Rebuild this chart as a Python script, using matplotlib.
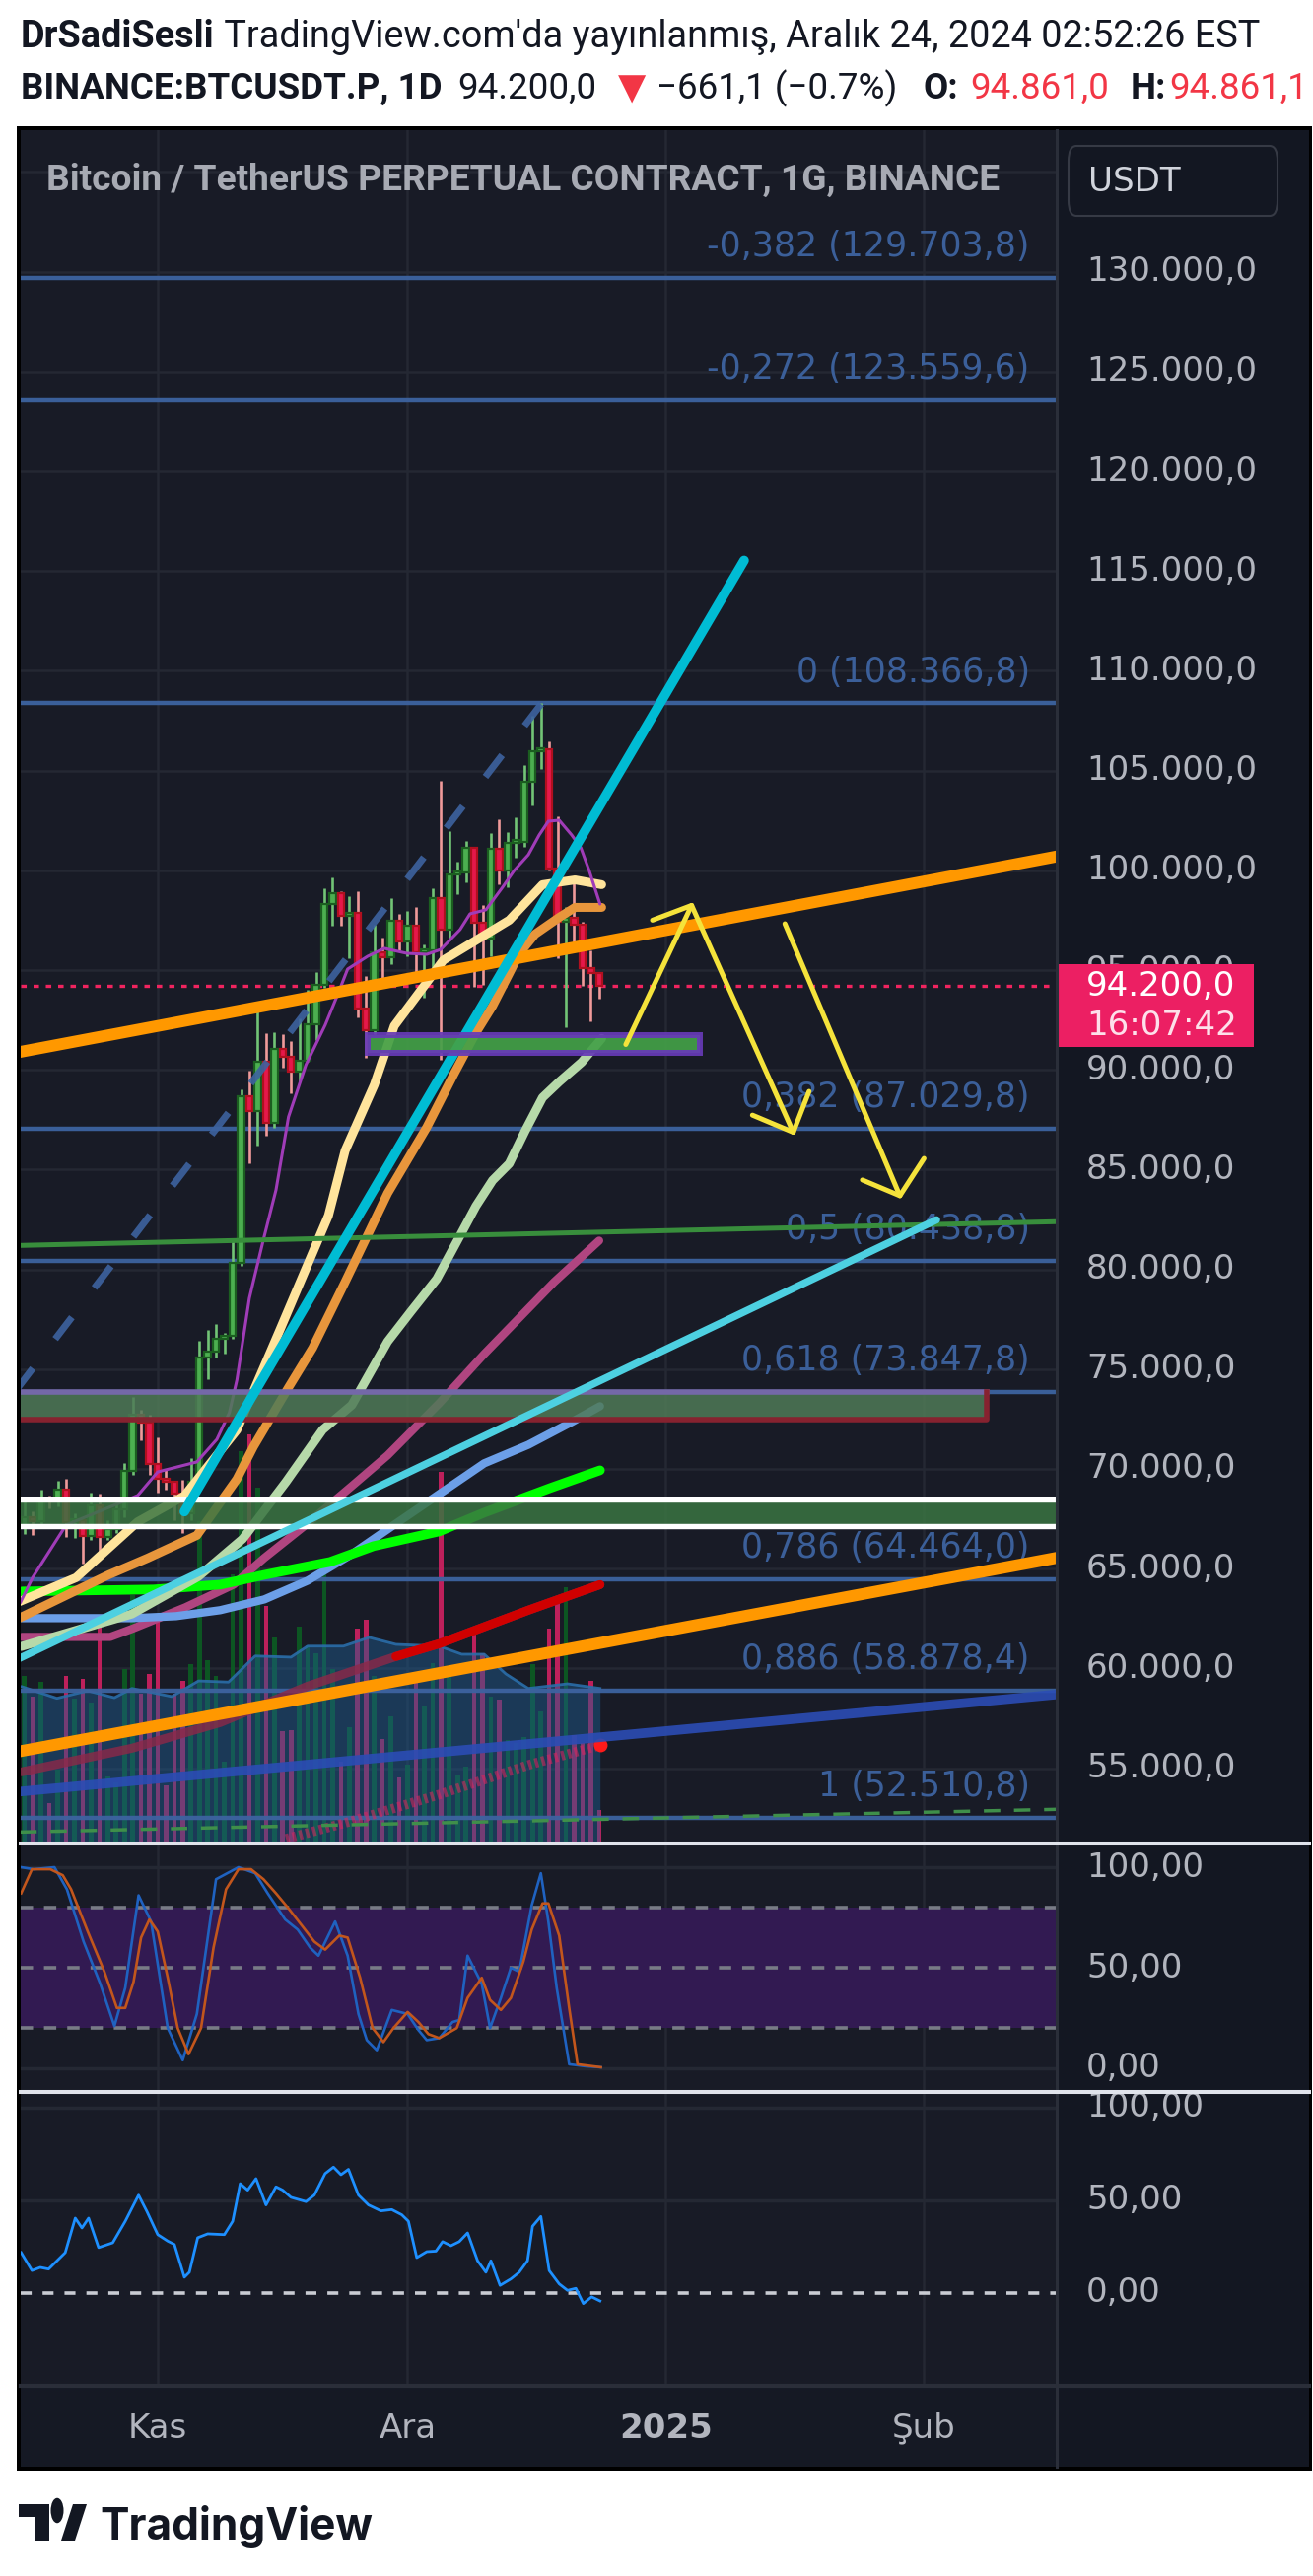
import matplotlib
matplotlib.use("Agg")
import matplotlib.pyplot as plt
import matplotlib.transforms as mtransforms
from matplotlib.patches import Rectangle, FancyBboxPatch, Polygon, Circle
from matplotlib.lines import Line2D
import numpy as np

plt.rcParams['lines.scale_dashes'] = False
plt.rcParams['font.family'] = ['DejaVu Sans']

# ---------------------------------------------------------------- data
# day 0 = 1 Kasım 2024, one candle per day
candle_days = list(range(-16, 54))
opens = [67050, 67600, 67400, 68400, 68350, 68950, 67350, 67420, 66650, 68150,
         66600, 67000, 67950, 69900, 72700, 72300, 70250, 69500, 69350, 68750,
         67800, 69350, 75600, 75900, 76500, 76650, 80350, 88700, 87950, 90400,
         87350, 91050, 90650, 89900, 90450, 92300, 94250, 98300, 98850, 97700,
         97850, 93050, 92000, 95900, 95650, 97450, 96450, 97200, 95900, 96000,
         98600, 97050, 99800, 99900, 101150, 97350, 96600, 101100, 100000, 101350,
         101400, 104450, 105950, 106050, 100100, 97400, 97600, 97250, 95100, 94861]
highs = [68400, 67900, 68950, 68650, 69400, 69500, 67800, 67450, 68800, 68750,
         67450, 68300, 70300, 73600, 72950, 72700, 71600, 70000, 69400, 69450,
         70550, 76400, 76950, 77250, 76800, 81500, 89000, 89950, 93250, 91850,
         91900, 91800, 91450, 92600, 94000, 94900, 99100, 99650, 98950, 98700,
         98950, 94700, 97250, 96650, 98600, 97800, 97950, 98150, 96300, 99100,
         104500, 101950, 100450, 101450, 101200, 98250, 101850, 102550, 101900, 102650,
         105300, 107750, 108370, 106470, 102700, 98150, 99400, 97400, 96000, 94861.1]
lows = [66750, 66700, 67100, 68000, 68100, 66600, 66550, 65250, 66450, 65550,
        66450, 66800, 67600, 69700, 71450, 69700, 68800, 68950, 67450, 66800,
        67450, 69300, 74500, 75600, 75800, 76500, 80200, 85300, 86200, 86700,
        87100, 90100, 88800, 89400, 90400, 91500, 94100, 97200, 97200, 95600,
        92650, 90600, 91800, 94600, 95300, 96000, 95700, 94400, 93600, 94650,
        90500, 96500, 98800, 99400, 94150, 94250, 95700, 99300, 99150, 100650,
        101200, 103250, 105100, 100000, 95600, 92150, 96400, 94200, 92450, 93550]
closes = [67600, 67400, 68400, 68350, 68950, 67350, 67420, 66650, 68150, 66600,
          67000, 67950, 69900, 72700, 72300, 70250, 69500, 69350, 68750, 67800,
          69350, 75600, 75900, 76500, 76650, 80350, 88700, 87950, 90400, 87350,
          91050, 90650, 89900, 90450, 92300, 94250, 98300, 98850, 97700, 97850,
          93050, 92000, 95900, 95650, 97450, 96450, 97200, 95900, 96000, 98600,
          97050, 99800, 99900, 101150, 97350, 96600, 101100, 100000, 101350, 101400,
          104450, 105950, 106050, 100100, 97400, 97600, 97250, 95100, 94861, 94200]
volume_k = [286, 250, 275, 66, 124, 286, 247, 281, 240, 376,
            112, 102, 298, 425, 255, 289, 393, 97, 255, 277,
            306, 553, 313, 286, 138, 461, 673, 702, 610, 406,
            352, 190, 192, 371, 338, 325, 462, 298, 138, 197,
            367, 383, 286, 177, 216, 111, 133, 275, 233, 308,
            638, 298, 116, 129, 364, 325, 250, 245, 175, 170,
            180, 306, 224, 367, 415, 439, 184, 170, 277, 54]
vol_ma_days = [-16.3, -12.1, -8.4, -5.2, -3.1, 1.7, 4.9, 8.5, 11.7, 16.0, 18.0,
               22.3, 25.4, 28.6, 33.8, 36.5, 39.2, 41.8, 44.5, 49.2, 53.1]
vol_ma_vals = [267, 247, 260, 248, 264, 250, 277, 275, 320, 318, 337,
               337, 352, 340, 337, 323, 323, 289, 264, 272, 264]

last_price = 94200.0

# moving averages (day, price)
ma_purple_days = [-16.5, -15.0, -11.0, -2.4, 0, 4.7, 7.1, 8.6, 9.5, 11.0, 12.7, 14.2,
                  15.7, 17.8, 20.1, 21.7, 22.8, 25.2, 27.2, 29.9, 32.3, 34.0, 36.3,
                  37.5, 39.4, 41.4, 42.8, 44.5, 45.8, 46.9, 48.2, 49.7, 50.8, 51.8, 53.1]
ma_purple_vals = [63300, 64570, 67190, 68670, 69850, 70350, 71480, 72820, 74450, 78550,
                  81510, 83980, 87640, 90260, 92240, 93870, 95050, 95690, 96090, 95840,
                  95790, 96040, 97030, 97820, 98020, 99150, 99990, 100780, 101770, 102460,
                  102510, 101770, 101130, 99990, 98310]
ma_cream_days = [-16.9, -9.8, -2.4, 3.2, 9.5, 14.6, 20.5, 22.5, 26.0, 28.4, 34.3,
                 42.2, 46.2, 50.1, 53.3]
ma_cream_vals = [63300, 64550, 67350, 68650, 71950, 76900, 82700, 85950, 89250, 92200,
                 95500, 97500, 99280, 99520, 99280]
ma_orange_days = [-16.9, -5.9, -1.2, 4.7, 9.5, 11.5, 15.7, 18.6, 22.5, 27.6, 32.3,
                  35.5, 38.2, 40.2, 42.2, 43.4, 45.3, 48.2, 50.1, 53.3]
ma_orange_vals = [62470, 64690, 65530, 66670, 69490, 71120, 74080, 76060, 79370, 83810,
                  87120, 89740, 91860, 93200, 94830, 95820, 96800, 97640, 98140, 98140]
ma_sage_days = [-16.4, -3.1, 4.9, 10.2, 15.4, 19.8, 23.3, 27.6, 30.4, 33.5, 36.3,
                38.2, 40.2, 42.2, 44.1, 46.2, 48.2, 50.9, 53.3]
ma_sage_vals = [61100, 62730, 64610, 66490, 69350, 71960, 73200, 76380, 77890, 79520,
                81690, 83170, 84460, 85300, 86930, 88610, 89400, 90380, 91570]
ma_magenta_days = [-16.3, -5.7, -3.1, 3.3, 9.1, 12.8, 18.0, 23.3, 27.6, 33.8, 39.2, 47.6, 53.0]
ma_magenta_vals = [61580, 61580, 61980, 63060, 64200, 65540, 67270, 69140, 70680,
                   73290, 75760, 79370, 81440]
ma_lime_days = [-16.3, -0.5, 7.5, 12.8, 20.7, 25.9, 33.8, 39.2, 47.1, 53.1]
ma_lime_vals = [63860, 63960, 64200, 64690, 65340, 66130, 66870, 67810, 69040, 69930]
ma_sky_days = [-16.3, -3.1, 2.2, 7.5, 12.8, 18.0, 23.3, 28.6, 33.8, 39.2, 44.5, 49.7, 53.1]
ma_sky_vals = [62520, 62520, 62620, 62920, 63460, 64400, 65730, 67260, 68740, 70280,
               71210, 72350, 73140]
ma_red_days = [-16.3, -3.1, 7.5, 18.0, 28.6, 33.8, 44.5, 53.1]
ma_red_vals = [54820, 56000, 57290, 59110, 60600, 61240, 62920, 64200]
ma_hatch_days = [15.4, 23.3, 33.8, 44.5, 53.1]
ma_hatch_vals = [51460, 52350, 53680, 55160, 56150]

# fibonacci retracement
fib_ratios = ["-0,382", "-0,272", "0", "0,382", "0,5", "0,618", "0,786", "0,886", "1"]
fib_prices = [129703.8, 123559.6, 108366.8, 87029.8, 80438.8, 73847.8, 64464.0, 58878.4, 52510.8]

# hand-drawn trend lines: (day0, price0, day1, price1)
tl_orange_upper = (-16.5, 90900, 108, 100700)
tl_orange_lower = (-16.5, 55850, 108, 65550)
tl_cyan = (3.2, 67860, 70.4, 115530)
tl_aqua = (-16.9, 60450, 93.5, 82480)
tl_green = (-16.5, 81200, 108, 82390)
tl_navy = (-16.5, 53830, 108, 58700)
tl_green_dashed = (-16.5, 51800, 108, 52940)
tl_blue_dashed = (-17.0, 73950, 46.1, 108366.8)

# zones
support_zone = (25.15, 90830, 65.05, 91760)        # day0, low, day1, high
gap_zone = (-40, 72453, 99.5, 73836)
band_zone = (67120, 68450)

# yellow projection arrows (day, price polylines)
arrow_up_days, arrow_up_prices = [56.2, 64.1, 59.4], [91270, 98240, 97500]
arrow_down1_days, arrow_down1_prices = [64.1, 76.3], [98240, 86870]
arrow_down1_head_days, arrow_down1_head_prices = [71.4, 76.3, 78.2], [87730, 86870, 88920]
arrow_down2_days, arrow_down2_prices = [75.3, 89.1], [97320, 83690]
arrow_down2_head_days, arrow_down2_head_prices = [84.6, 89.1, 92.0], [84480, 83690, 85560]

# stochastic RSI
stoch_k_days = [-16.4, -14.9, -12.4, -10.9, -8.9, -6.9, -5.2, -3.9, -2.3, -0.8, 1.2, 3.0,
                4.7, 7.0, 9.7, 11.7, 13.2, 15.3, 16.8, 18.3, 19.3, 21.3, 22.8, 24.1, 25.1,
                26.3, 28.1, 30.0, 31.3, 32.3, 33.8, 35.4, 36.2, 37.2, 38.9, 39.9, 41.2,
                42.4, 43.4, 44.9, 46.0, 46.9, 47.9, 49.4, 51.4, 53.2]
stoch_k_vals = [100, 99, 100, 89, 63, 42, 21, 40, 86, 73, 20, 4, 27, 94, 100, 97, 87, 74,
                69, 60, 56, 73, 56, 27, 14, 9, 29, 27, 19, 14, 15, 23, 24, 56, 42, 20, 35,
                50, 48, 81, 97, 73, 40, 2, 1, 0.5]
stoch_d_days = [-16.4, -15.1, -12.9, -11.4, -10.4, -8.4, -6.4, -4.9, -3.9, -2.9, -2.0,
                -1.0, 0.0, 1.2, 2.4, 3.7, 5.2, 6.7, 8.2, 9.7, 11.2, 12.7, 14.2, 15.8, 17.3,
                18.8, 20.1, 21.8, 22.8, 24.3, 25.8, 27.1, 28.3, 30.0, 31.3, 32.5, 33.8,
                35.9, 37.2, 38.9, 39.9, 41.2, 42.4, 43.9, 44.9, 46.2, 46.9, 48.2, 49.4,
                50.4, 53.2]
stoch_d_vals = [87, 99, 99, 96, 89, 68, 48, 30, 30, 43, 65, 74, 68, 45, 20, 7, 20, 60, 89,
                99, 99, 94, 87, 79, 71, 63, 59, 66, 65, 45, 20, 13, 20, 28, 23, 17, 15, 20,
                35, 45, 34, 29, 35, 53, 69, 82, 82, 66, 30, 2, 0.5]

# lower oscillator
osc_days = [-16.4, -15.1, -14.1, -13.1, -11.1, -9.9, -9.1, -8.3, -7.1, -5.4, -3.9, -2.3,
            -1.3, 0.0, 1.2, 2.0, 3.2, 3.8, 4.8, 6.0, 8.0, 9.0, 9.9, 10.8, 11.8, 13.0,
            14.2, 15.0, 16.0, 17.8, 18.8, 20.1, 21.1, 22.0, 22.9, 24.1, 25.3, 26.8, 28.1,
            29.3, 30.1, 31.1, 32.3, 33.4, 34.2, 35.2, 36.2, 37.2, 38.4, 39.4, 40.0, 41.1,
            42.4, 43.4, 44.4, 45.0, 46.0, 47.0, 48.2, 49.2, 50.2, 51.1, 52.1, 53.1]
osc_vals = [21.8, 12.1, 13.8, 12.9, 21.8, 40.4, 35.1, 40.4, 24.5, 27.1, 38.7, 52.8, 44.0,
            31.5, 28.0, 26.2, 8.5, 11.2, 29.8, 31.9, 31.5, 38.7, 59.0, 55.5, 61.7, 47.5,
            57.3, 55.5, 51.6, 49.3, 52.8, 64.4, 67.9, 63.8, 66.7, 52.8, 47.5, 44.3, 45.0,
            42.2, 38.7, 19.1, 22.3, 22.6, 27.7, 25.5, 27.7, 32.4, 17.4, 11.2, 17.4, 4.1,
            7.6, 11.2, 17.4, 36.0, 41.3, 12.1, 4.9, 1.4, 2.5, -5.7, -2.1, -4.3]

price_ticks = list(range(55000, 135000, 5000))
grid_prices = list(range(55000, 140000, 5000))
month_days = [0, 30, 61, 92]
month_labels = ["Kas", "Ara", "2025", "Şub"]

# ---------------------------------------------------------------- layout
W, H, DPI = 1332, 2613, 100
X_PLOT0, X_PLOT1, X_FRAME1 = 21, 1072, 1328
Y_MAIN0, Y_MAIN1 = 132, 1868
Y_ST0, Y_ST1 = 1872, 2120
Y_OSC0, Y_OSC1 = 2124, 2419
Y_TIME1 = 2502
XLIM = (-16.45, 107.93)
PRICE_LIM = (51324, 137095)
VOL_LIM = (0, 2951)
STOCH_LIM = (-10.8, 110.8)
OSC_LIM = (-49.5, 107.4)

PANE_BG = '#181b26'
AXIS_BG = '#131722'
GRID = '#242833'
AX_TEXT = '#b2b5be'
AX_FS = 24.5
UP_FILL, UP_EDGE, UP_WICK = '#4caf50', '#1b5e20', '#72c476'
DN_FILL, DN_EDGE, DN_WICK = '#e5184a', '#b0101f', '#f09a9a'

fig = plt.figure(figsize=(W / DPI, H / DPI), dpi=DPI, facecolor='white')


def rect_px(x0, y0, x1, y1):
    return [x0 / W, 1 - y1 / H, (x1 - x0) / W, (y1 - y0) / H]


def fxy(x, y):
    return (x / W, 1 - y / H)


def bare(a):
    a.set_xticks([])
    a.set_yticks([])
    for s in a.spines.values():
        s.set_visible(False)


def fig_rect(x0, y0, x1, y1, color, z):
    fig.add_artist(Rectangle(fxy(x0, y1), (x1 - x0) / W, (y1 - y0) / H,
                             transform=fig.transFigure, facecolor=color,
                             edgecolor='none', zorder=z))


def fig_hline(y, x0, x1, color, lw, z=20):
    fig.add_artist(Line2D([x0 / W, x1 / W], [1 - y / H, 1 - y / H],
                          transform=fig.transFigure, color=color, lw=lw, zorder=z))


def euro_fmt(v):
    return f"{v:,.1f}".replace(",", "X").replace(".", ",").replace("X", ".")


# chart frame and price-scale panel
fig_rect(17, 128, 1331, 2506, '#000000', -10)
fig_rect(X_PLOT0, 132, X_FRAME1, Y_TIME1, AXIS_BG, -9)

# ---------------------------------------------------------------- main pane
ax_bg = fig.add_axes(rect_px(X_PLOT0, Y_MAIN0, X_PLOT1, Y_MAIN1))
ax_bg.set_facecolor(PANE_BG)
ax_bg.set_xlim(*XLIM)
ax_bg.set_ylim(*PRICE_LIM)
bare(ax_bg)
for p in grid_prices:
    ax_bg.axhline(p, color=GRID, lw=1.8)
for d in month_days:
    ax_bg.axvline(d, color=GRID, lw=1.8)

ax_vol = fig.add_axes(rect_px(X_PLOT0, Y_MAIN0, X_PLOT1, Y_MAIN1))
ax_vol.set_facecolor('none')
ax_vol.set_xlim(*XLIM)
ax_vol.set_ylim(*VOL_LIM)
bare(ax_vol)
is_up = [c >= o for o, c in zip(opens, closes)]
vol_colors = ['#0b5c22' if u else '#cc2160' for u in is_up]
ax_vol.bar(candle_days, volume_k, width=0.55, color=vol_colors, alpha=0.92, lw=0)
ax_vol.fill_between(vol_ma_days, 0, vol_ma_vals, color='#1f5f94', alpha=0.45, lw=0)
ax_vol.plot(vol_ma_days, vol_ma_vals, color='#2a6eaa', lw=2.0, alpha=0.9)

ax = fig.add_axes(rect_px(X_PLOT0, Y_MAIN0, X_PLOT1, Y_MAIN1))
ax.set_facecolor('none')
ax.set_xlim(*XLIM)
ax.set_ylim(*PRICE_LIM)
bare(ax)

# fibonacci levels
for lab, p in zip(fib_ratios, fib_prices):
    ax.axhline(p, color='#3d63a0', lw=3.2, alpha=0.95, zorder=1)
    ax.annotate(f"{lab} ({euro_fmt(p)})", xy=(104.7, p), xytext=(0, 23),
                textcoords='offset points', ha='right', va='center',
                color='#3b5f99', fontsize=25, zorder=1)

# last price dotted line
ax.axhline(last_price, color='#f0245f', lw=2.4, dashes=(4, 5), zorder=2)

# candles
wick_cols = [UP_WICK if u else DN_WICK for u in is_up]
ax.vlines(candle_days, lows, highs, colors=wick_cols, lw=1.9, zorder=2.5)
body_lo = [min(o, c) for o, c in zip(opens, closes)]
body_h = [max(abs(c - o), 150) for o, c in zip(opens, closes)]
ax.bar(candle_days, body_h, bottom=body_lo, width=0.76,
       color=[UP_FILL if u else DN_FILL for u in is_up],
       edgecolor=[UP_EDGE if u else DN_EDGE for u in is_up], lw=1.6, zorder=3)

# moving averages
ma_kw = dict(solid_capstyle='round', solid_joinstyle='round')
ax.plot(ma_red_days, ma_red_vals, color='#8e2848', lw=6.5, alpha=0.8, zorder=4, **ma_kw)
red_bright = [i for i, d in enumerate(ma_red_days) if d >= 28.6]
ax.plot([ma_red_days[i] for i in red_bright], [ma_red_vals[i] for i in red_bright],
        color='#d00000', lw=6.5, zorder=4.1, **ma_kw)
ax.plot(ma_hatch_days, ma_hatch_vals, color='#e0245e', lw=7, alpha=0.55,
        dashes=(2.5, 2.5), zorder=4)
ax.plot(ma_hatch_days[-1:], ma_hatch_vals[-1:], 'o', color='#ff1a1a', ms=9, zorder=4.1)
ax.plot(ma_magenta_days, ma_magenta_vals, color='#b04580', lw=6, zorder=4, **ma_kw)
ax.plot(ma_sky_days, ma_sky_vals, color='#6c9fe8', lw=6, zorder=4, **ma_kw)
ax.plot(ma_lime_days, ma_lime_vals, color='#00ff00', lw=7, zorder=4, **ma_kw)
ax.plot(ma_sage_days, ma_sage_vals, color='#b6d9a9', lw=6.5, zorder=4, **ma_kw)
ax.plot(ma_orange_days, ma_orange_vals, color='#e8963c', lw=6.5, zorder=4, **ma_kw)
ax.plot(ma_cream_days, ma_cream_vals, color='#ffe49c', lw=6.5, zorder=4, **ma_kw)
ax.plot(ma_purple_days, ma_purple_vals, color='#a03cb8', lw=2.2, zorder=4.2, **ma_kw)

# zones
gx0, glo, gx1, ghi = gap_zone
ax.add_patch(Rectangle((gx0, glo), gx1 - gx0, ghi - glo, facecolor='#4f7a57',
                       edgecolor='none', alpha=0.85, zorder=5))
ax.plot([gx0, gx1], [ghi, ghi], color='#7468a8', lw=4, zorder=5.1)
ax.plot([gx0, gx1, gx1], [glo, glo, ghi], color='#86222f', lw=4, zorder=5.1)
blo, bhi = band_zone
ax.axhspan(blo, bhi, color='#3a7442', alpha=0.85, lw=0, zorder=5)
ax.axhline(bhi, color='white', lw=3.9, zorder=5.2)
ax.axhline(blo, color='white', lw=3.9, zorder=5.2)


# trend lines
def tline(spec, **kw):
    d0, p0, d1, p1 = spec
    ax.plot([d0, d1], [p0, p1], **kw)


tline(tl_green_dashed, color='#3f8f4a', lw=2.5, dashes=(12, 10), zorder=6)
tline(tl_navy, color='#2b4db5', lw=7, alpha=0.9, zorder=6, solid_capstyle='round')
tline(tl_green, color='#388e3c', lw=3.6, zorder=6)
tline(tl_orange_lower, color='#ff9800', lw=8.6, zorder=6.2)
tline(tl_orange_upper, color='#ff9800', lw=8.6, zorder=6.2)
tline(tl_aqua, color='#4dd0e1', lw=5.4, zorder=6.1, solid_capstyle='round')
tline(tl_cyan, color='#00bcd4', lw=7, zorder=6.3, solid_capstyle='round')
tline(tl_blue_dashed, color='#3d63a0', lw=5, alpha=0.9, dashes=(20, 27),
      dash_capstyle='butt', zorder=6)

sx0, slo, sx1, shi = support_zone
ax.add_patch(Rectangle((sx0, slo), sx1 - sx0, shi - slo, facecolor='#43a047',
                       edgecolor='#673ab7', lw=4.3, alpha=0.92, zorder=7))

# yellow projection arrows
arrow_kw = dict(color='#f5e33b', lw=3.6, zorder=8, solid_capstyle='round',
                solid_joinstyle='round')
ax.plot(arrow_up_days, arrow_up_prices, **arrow_kw)
ax.plot(arrow_down1_days, arrow_down1_prices, **arrow_kw)
ax.plot(arrow_down1_head_days, arrow_down1_head_prices, **arrow_kw)
ax.plot(arrow_down2_days, arrow_down2_prices, **arrow_kw)
ax.plot(arrow_down2_head_days, arrow_down2_head_prices, **arrow_kw)

# price scale labels
lab_x = (1102 - X_PLOT0) / (X_PLOT1 - X_PLOT0)
btr = mtransforms.blended_transform_factory(ax.transAxes, ax.transData)
for p in price_ticks:
    ax.text(lab_x, p, euro_fmt(p), transform=btr, ha='left', va='center', color=AX_TEXT,
            fontsize=AX_FS, clip_on=False, zorder=9)

# last price tag
px_per_usd = (Y_MAIN1 - Y_MAIN0) / (PRICE_LIM[1] - PRICE_LIM[0])
tag_w = (1272 - X_PLOT1) / (X_PLOT1 - X_PLOT0)
ax.add_patch(FancyBboxPatch((1.0, last_price - 62 / px_per_usd), tag_w, 84 / px_per_usd,
                            boxstyle='square,pad=0', transform=btr, facecolor='#ec1f63',
                            edgecolor='none', clip_on=False, zorder=10))
ax.text(lab_x, last_price, euro_fmt(last_price), transform=btr, ha='left', va='center',
        color='white', fontsize=AX_FS, clip_on=False, zorder=11)
ax.text(lab_x, last_price - 40 / px_per_usd, "16:07:42", transform=btr, ha='left',
        va='center', color='#fde0ea', fontsize=AX_FS, clip_on=False, zorder=11)

# ---------------------------------------------------------------- stochastic RSI pane
ax_st = fig.add_axes(rect_px(X_PLOT0, Y_ST0, X_PLOT1, Y_ST1))
ax_st.set_facecolor(PANE_BG)
ax_st.set_xlim(*XLIM)
ax_st.set_ylim(*STOCH_LIM)
bare(ax_st)
for d in month_days:
    ax_st.axvline(d, color=GRID, lw=1.8, zorder=0)
ax_st.axhline(100, color=GRID, lw=2.5, zorder=0)
ax_st.axhline(0, color=GRID, lw=2.5, zorder=0)
ax_st.axhspan(20, 80, color='#321a52', lw=0, zorder=0.5)
for lvl in (80, 50, 20):
    ax_st.axhline(lvl, color='#787b86', lw=2.6, dashes=(9, 8), zorder=1)
ax_st.plot(stoch_k_days, stoch_k_vals, color='#1f62c0', lw=1.9, zorder=2)
ax_st.plot(stoch_d_days, stoch_d_vals, color='#c2561c', lw=1.9, zorder=2)
st_tr = mtransforms.blended_transform_factory(ax_st.transAxes, ax_st.transData)
for v, s in ((100, "100,00"), (50, "50,00"), (0, "0,00")):
    ax_st.text(lab_x, v, s, transform=st_tr, ha='left', va='center', color=AX_TEXT,
               fontsize=AX_FS, clip_on=False)

# ---------------------------------------------------------------- oscillator pane
ax_os = fig.add_axes(rect_px(X_PLOT0, Y_OSC0, X_PLOT1, Y_OSC1))
ax_os.set_facecolor(PANE_BG)
ax_os.set_xlim(*XLIM)
ax_os.set_ylim(*OSC_LIM)
bare(ax_os)
for d in month_days:
    ax_os.axvline(d, color=GRID, lw=1.8, zorder=0)
ax_os.axhline(100, color=GRID, lw=2.5, zorder=0)
ax_os.axhline(50, color=GRID, lw=2.5, zorder=0)
ax_os.axhline(0, color='#c9ccd3', lw=2.6, dashes=(8, 8), zorder=1)
ax_os.plot(osc_days, osc_vals, color='#1e90ff', lw=2.0, zorder=2)
os_tr = mtransforms.blended_transform_factory(ax_os.transAxes, ax_os.transData)
for v, s in ((100, "100,00"), (50, "50,00"), (0, "0,00")):
    ax_os.text(lab_x, v, s, transform=os_tr, ha='left', va='center', color=AX_TEXT,
               fontsize=AX_FS, clip_on=False)

# ---------------------------------------------------------------- time axis
ax_t = fig.add_axes(rect_px(X_PLOT0, Y_OSC1 + 2, X_PLOT1, Y_TIME1))
ax_t.set_facecolor('#151924')
ax_t.set_xlim(*XLIM)
ax_t.set_ylim(0, 1)
bare(ax_t)
for d, s in zip(month_days, month_labels):
    ax_t.text(d, 0.48, s, ha='center', va='center', color=AX_TEXT, fontsize=AX_FS,
              fontweight='bold' if s == "2025" else 'normal')

# pane separators
fig_hline(1870, X_PLOT0, X_FRAME1, '#e0e3eb', 2.9)
fig_hline(2122, X_PLOT0, X_FRAME1, '#e0e3eb', 2.9)
fig_hline(2420, X_PLOT0, X_FRAME1, '#2a2e39', 3.0)
fig.add_artist(Line2D([X_PLOT1 / W, X_PLOT1 / W], [1 - Y_TIME1 / H, 1 - Y_MAIN0 / H],
                      transform=fig.transFigure, color='#2a2e39', lw=2.2, zorder=19))

# currency box
fig.add_artist(FancyBboxPatch(fxy(1084, 219), 212 / W, 71 / H,
                              boxstyle='round,pad=0,rounding_size=0.006',
                              transform=fig.transFigure, facecolor='#131722',
                              edgecolor='#363a45', lw=1.5, zorder=21))
fig.text(1104 / W, 1 - 184 / H, "USDT", ha='left', va='center', color='#d1d4dc',
         fontsize=AX_FS, zorder=22)

# ---------------------------------------------------------------- texts
renderer = fig.canvas.get_renderer()


def fit(t, width_px):
    w = t.get_window_extent(renderer=renderer).width
    t.set_fontsize(t.get_fontsize() * width_px / w)


def right_of(t):
    return t.get_window_extent(renderer=renderer).x1


HEAD = ['Roboto', 'DejaVu Sans']
DARK = '#131722'
RED = '#f23645'

t1 = fig.text(21 / W, 1 - 48 / H, "DrSadiSesli", fontsize=20, fontweight='bold',
              family=HEAD, color=DARK)
t2 = fig.text(0, 1 - 48 / H, " TradingView.com'da yayınlanmış, Aralık 24, 2024 02:52:26 EST",
              fontsize=20, family=HEAD, color=DARK)
w_all = t1.get_window_extent(renderer=renderer).width + t2.get_window_extent(renderer=renderer).width
scale = 1255 / w_all
t1.set_fontsize(20 * scale)
t2.set_fontsize(20 * scale)
t2.set_x(right_of(t1) / W)

b1 = fig.text(21 / W, 1 - 100 / H, "BINANCE:BTCUSDT.P, 1D", fontsize=20, fontweight='bold',
              family=HEAD, color=DARK)
fit(b1, 426)
fs2 = b1.get_fontsize()
segments = [(464, "94.200,0", DARK, 'normal'), (627, "▼", RED, 'normal'),
            (666, "−661,1 (−0.7%)", DARK, 'normal'), (936, "O:", DARK, 'bold'),
            (984, "94.861,0", RED, 'normal'), (1147, "H:", DARK, 'bold'),
            (1186, "94.861,1", RED, 'normal')]
for x, s, c, wgt in segments:
    fig.text(x / W, 1 - 100 / H, s, fontsize=fs2, fontweight=wgt, family=HEAD, color=c)

title = fig.text(47 / W, 1 - 193 / H, "Bitcoin / TetherUS PERPETUAL CONTRACT, 1G, BINANCE",
                 fontsize=20, fontweight='bold', family=HEAD, color='#a7aab3', zorder=22)
fit(title, 965)

# TradingView mark
fig.add_artist(Polygon([fxy(19, 2540), fxy(50, 2540), fxy(50, 2577), fxy(36, 2577),
                        fxy(36, 2553), fxy(19, 2553)], closed=True,
                       transform=fig.transFigure, facecolor=DARK, edgecolor='none'))
fig.add_artist(Circle(fxy(58, 2546.5), 6.5 / W, transform=fig.transFigure,
                      facecolor=DARK, edgecolor='none'))
fig.add_artist(Polygon([fxy(62, 2577), fxy(74, 2540), fxy(88, 2540), fxy(76, 2577)],
                       closed=True, transform=fig.transFigure, facecolor=DARK,
                       edgecolor='none'))
logo = fig.text(101 / W, 1 - 2576 / H, "TradingView", fontsize=30, fontweight='bold',
                family=['Inter', 'DejaVu Sans'], color=DARK)
fit(logo, 277)

fig.savefig("out.png", dpi=DPI, facecolor='white')
